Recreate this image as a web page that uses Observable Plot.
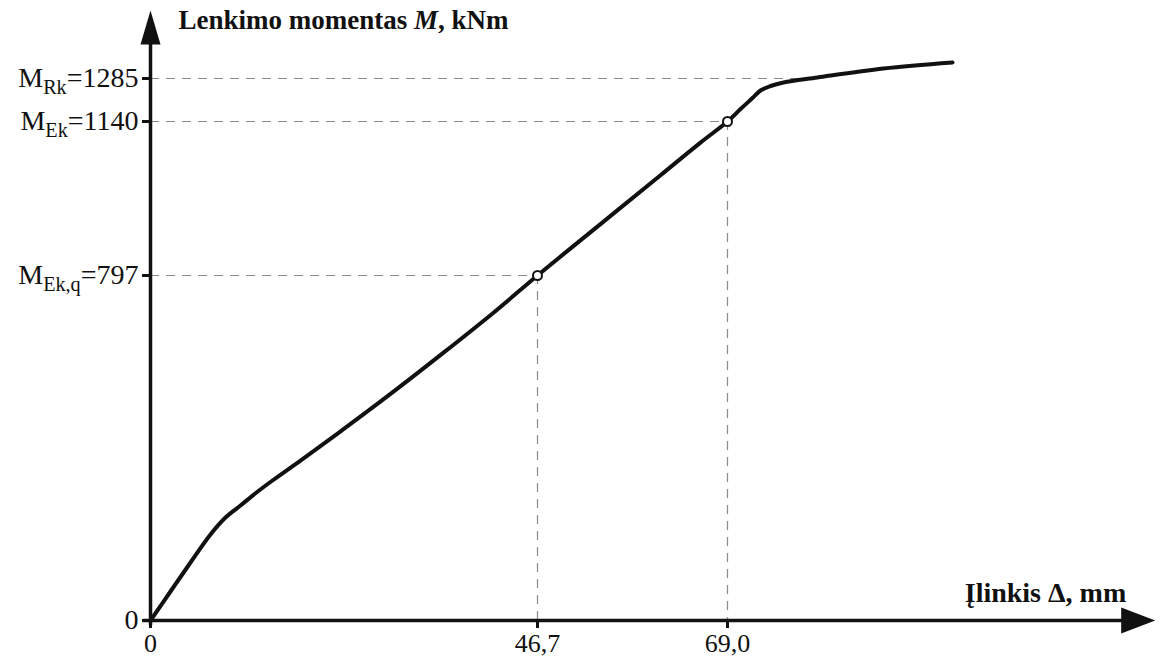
<!DOCTYPE html>
<html><head><meta charset="utf-8">
<script src="https://cdn.jsdelivr.net/npm/d3@7"></script>
<script src="https://cdn.jsdelivr.net/npm/@observablehq/plot@0.6"></script>
<style>body{margin:0;background:#fff;} svg{display:block}</style>
</head><body><div id="chart"></div>
<script>
// Curve: deflection Δ (mm) vs bending moment M (kNm)
const deflection = [0, 2.41, 4.83, 7.24, 9.05, 10.86, 12.79, 14.72, 18.10, 23.29, 29.32, 35.36, 41.39, 46.7, 54.09, 61.14, 65.83, 69, 70.53, 71.93, 72.87, 74.05, 75.57, 79.56, 87.3, 95.41];
const moment     = [0, 67.0, 134.0, 198.7, 237.9, 265.7, 295.7, 323.4, 369.4, 441.9, 528.6, 618.7, 711.1, 797, 911.5, 1020.4, 1093.0, 1140, 1182.0, 1219.0, 1244.5, 1259.7, 1271.5, 1288.4, 1318.7, 1339];

// Y tick values and their subscripts
const yTickValues = [0, 797, 1140, 1285];
const yTickSubs   = ["", "Ek,q", "Ek", "Rk"];
// X tick values and labels
const xTickValues = [0, 46.7, 69];
const xTickLabels = ["0", "46,7", "69,0"];
// Marked points
const markX = [46.7, 69];
const markY = [797, 1140];

const xMax = 119.2;  // axis extent (arrow tip)
const yMax = 1514;

const titleY = "Lenkimo momentas M, kNm";
const titleX = "Įlinkis Δ, mm";

const curve = deflection.map((d, i) => ({x: d, y: moment[i]}));
const marks = markX.map((d, i) => ({x: d, y: markY[i]}));

// where curve reaches M_Rk
function crossX(v) {
  for (let i = 1; i < curve.length; i++) {
    const a = curve[i-1], b = curve[i];
    if (a.y <= v && b.y >= v) return a.x + (v - a.y) / (b.y - a.y) * (b.x - a.x);
  }
  return curve[curve.length-1].x;
}
const hDash = [
  {y: 797, x2: 46.7},
  {y: 1140, x2: 69},
  {y: 1285, x2: crossX(1285)}
];

const ink = "#111";
const arrowUp = {draw(ctx) { ctx.moveTo(0, 0); ctx.lineTo(-10, 34); ctx.lineTo(10, 34); ctx.closePath(); }};
const arrowRight = {draw(ctx) { ctx.moveTo(0, 0); ctx.lineTo(-34, -13); ctx.lineTo(-34, 13); ctx.closePath(); }};

const font = "Liberation Serif, Times New Roman, serif";

const yLabel = (v, i) => yTickSubs[i] ? `M${yTickSubs[i]}=${v}` : String(v);

const svg = Plot.plot({
  width: 1162,
  height: 661,
  margin: 0,
  style: {background: "#fff", overflow: "visible", fontFamily: font, color: ink},
  x: {type: "linear", domain: [0, 46.7, 69], range: [150, 537, 727], axis: null},
  y: {type: "linear", domain: [0, 797, 1140, 1285], range: [620, 275, 121, 78], axis: null},
  marks: [
    // dashed guides
    Plot.ruleY(hDash, {y: "y", x1: 0, x2: "x2", stroke: "#8a8a8a", strokeWidth: 1.2, strokeDasharray: "9,7"}),
    Plot.ruleX(marks, {x: "x", y1: "y", y2: 0, stroke: "#8a8a8a", strokeWidth: 1.2, strokeDasharray: "9,7"}),
    // axes
    Plot.ruleY([0], {y: d => d, x1: 0, x2: xMax, insetLeft: -7, insetRight: 30, stroke: ink, strokeWidth: 3.5}),
    Plot.ruleX([0], {x: d => d, y1: yMax, y2: 0, insetTop: 30, insetBottom: -5, stroke: ink, strokeWidth: 3.5}),
    Plot.dot([0], {x: () => xMax, y: () => 0, symbol: arrowRight, fill: ink, stroke: "none"}),
    Plot.dot([0], {x: () => 0, y: () => yMax, symbol: arrowUp, fill: ink, stroke: "none"}),
    // ticks
    Plot.ruleY(yTickValues, {y: d => d, x1: 0, x2: 0, insetLeft: -8, stroke: ink, strokeWidth: 3}),
    Plot.ruleX(xTickValues, {x: d => d, y1: 0, y2: 0, insetBottom: -8, stroke: ink, strokeWidth: 3}),
    // curve
    Plot.line(curve, {x: "x", y: "y", stroke: ink, strokeWidth: 4, curve: "catmull-rom", strokeLinejoin: "round", strokeLinecap: "round"}),
    Plot.dot(marks, {x: "x", y: "y", r: 4.5, fill: "#fff", stroke: ink, strokeWidth: 2}),
    // labels
    Plot.text(yTickValues, {x: 0, y: d => d, text: (d, i) => yLabel(d, i), textAnchor: "end", fontSize: 28, fill: ink, fontFamily: font, dx: -12}),
    Plot.text(xTickValues, {x: d => d, y: 0, dy: 23, text: (d, i) => xTickLabels[i], fontSize: 26, fill: ink, fontFamily: font}),
    Plot.text([titleY], {x: 0, y: yMax, text: d => d, dx: 28, dy: 10, textAnchor: "start", fontWeight: "bold", fontSize: 27, fill: ink, fontFamily: font}),
    Plot.text([titleX], {x: xMax, y: 0, text: d => d, dx: -29, dy: -27, textAnchor: "end", fontWeight: "bold", fontSize: 28, fill: ink, fontFamily: font})
  ]
});

// subscripts and italic M
d3.select(svg).selectAll("text").each(function() {
  const t = this.textContent;
  const m = t.match(/^M([^=]+)=(.+)$/);
  const sel = d3.select(this);
  if (m) {
    sel.text(null);
    sel.append("tspan").text("M");
    sel.append("tspan").attr("font-size", "0.72em").attr("dy", "0.3em").text(m[1]);
    sel.append("tspan").attr("dy", "-0.22em").text("=" + m[2]);
  } else if (t === titleY) {
    sel.text(null);
    sel.append("tspan").text("Lenkimo momentas ");
    sel.append("tspan").attr("font-style", "italic").text("M");
    sel.append("tspan").text(", kNm");
  }
});

document.getElementById("chart").appendChild(svg);
</script>
</body></html>
